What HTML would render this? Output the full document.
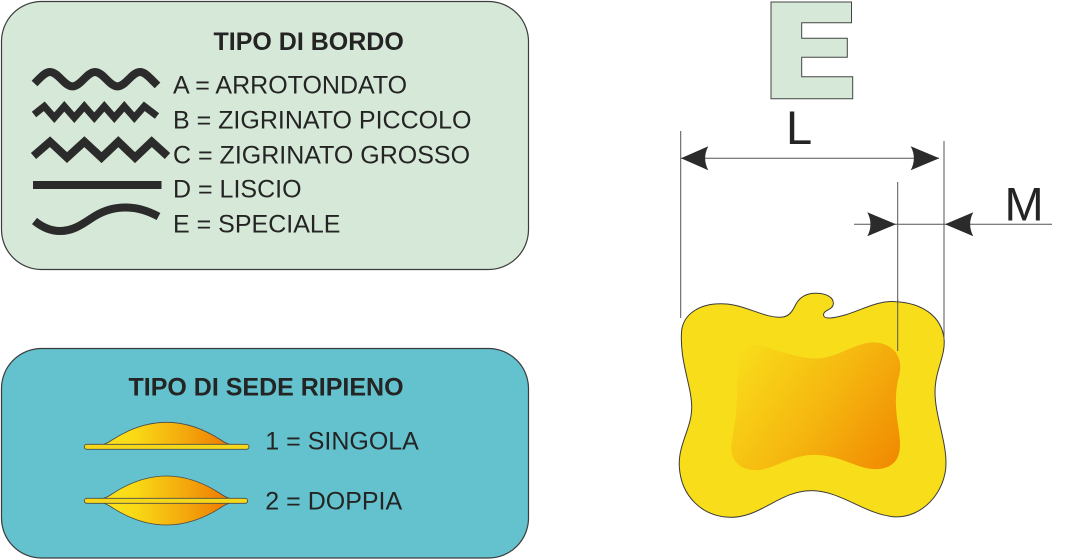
<!DOCTYPE html>
<html>
<head>
<meta charset="utf-8">
<style>
  html,body{margin:0;padding:0;background:#ffffff;}
  body{width:1087px;height:560px;overflow:hidden;}
  svg{display:block;}
  text{font-family:"Liberation Sans", Arial, sans-serif;fill:#242424;}
</style>
</head>
<body>
<svg width="1087" height="560" viewBox="0 0 1087 560" xmlns="http://www.w3.org/2000/svg">
  <defs>
    <linearGradient id="lens" gradientUnits="userSpaceOnUse" x1="105" y1="0" x2="229" y2="0">
      <stop offset="0" stop-color="#fbe41c"/>
      <stop offset="0.25" stop-color="#f9d816"/>
      <stop offset="0.65" stop-color="#f4a80c"/>
      <stop offset="1" stop-color="#ee7a00"/>
    </linearGradient>
    <linearGradient id="inner" gradientUnits="userSpaceOnUse" x1="740" y1="350" x2="905" y2="468">
      <stop offset="0" stop-color="#f9dc1a"/>
      <stop offset="0.5" stop-color="#f5b60f"/>
      <stop offset="1" stop-color="#f08500"/>
    </linearGradient>
  </defs>

  <!-- Box 1 -->
  <rect x="1.5" y="1.5" width="527" height="268" rx="40" ry="40" fill="#d6e8d7" stroke="#3c3c3c" stroke-width="1.2"/>
  <text x="213.5" y="50" font-size="25" font-weight="bold">TIPO DI BORDO</text>

  <!-- icons -->
  <g fill="none" stroke="#2b2b2b" stroke-linecap="butt">
    <path stroke-width="8" d="M34.5,83.5 L38.75,79.2 C42.51,75.42 45.94,72 50,72 C58.19,72 64.31,86.4 72.5,86.4 S86.81,72 95,72 S109.31,86.4 117.5,86.4 S131.81,72 140,72 C144.06,72 147.49,75.42 151.25,79.2 L157.5,85.45"/>
    <path stroke-width="7" stroke-linejoin="miter" d="M34,114.5 L44.3,106.3 L54.3,117.7 L64.3,106.3 L74.3,117.7 L84.3,106.3 L94.3,117.7 L104.3,106.3 L114.3,117.7 L124.3,106.3 L134.3,117.7 L144.3,106.3 L157,116"/>
    <path stroke-width="8" stroke-linejoin="miter" d="M33.5,156 L50,141.7 L67,157.6 L84.4,141.7 L101.5,157.6 L118.3,141.7 L135,157.6 L151.7,141.7 L167.5,156"/>
    <path stroke-width="8" d="M34.5,221 C42,227 50,231 60,231 C75,231 85,222 95,216 C105,210 115,207.5 125,207.5 C138,207.5 148,211 158.5,216.5"/>
  </g>
  <rect x="33" y="181" width="128.5" height="8" fill="#2b2b2b"/>

  <text x="173" y="93.3" font-size="25">A = ARROTONDATO</text>
  <text x="173" y="128.3" font-size="25">B = ZIGRINATO PICCOLO</text>
  <text x="173" y="163.3" font-size="25">C = ZIGRINATO GROSSO</text>
  <text x="173" y="197.7" font-size="25">D = LISCIO</text>
  <text x="173" y="232.7" font-size="25">E = SPECIALE</text>

  <!-- Box 2 -->
  <rect x="1.5" y="348.5" width="527" height="209.5" rx="40" ry="40" fill="#63c2cd" stroke="#3c3c3c" stroke-width="1.2"/>
  <text x="128.5" y="395.5" font-size="25" font-weight="bold">TIPO DI SEDE RIPIENO</text>

  <!-- single lens -->
  <path d="M103,444.5 Q108,443 112,440 Q166.5,404.6 221,440 Q225,443 230,444.5 Z" fill="url(#lens)" stroke="#4a4a4a" stroke-width="0.8"/>
  <rect x="84.3" y="444.3" width="164.7" height="5" rx="2.5" fill="#f6d81a" stroke="#4a4a4a" stroke-width="0.9"/>

  <!-- double lens -->
  <path d="M103,498.5 Q108,497 112,494 Q166.5,458 221,494 Q225,497 230,498.5 Z" fill="url(#lens)" stroke="#4a4a4a" stroke-width="0.8"/>
  <path d="M103,503 Q108,504.5 112,507.5 Q166.5,542.5 221,507.5 Q225,504.5 230,503 Z" fill="url(#lens)" stroke="#4a4a4a" stroke-width="0.8"/>
  <rect x="84.3" y="498.3" width="163.4" height="5" rx="2.5" fill="#f6d81a" stroke="#4a4a4a" stroke-width="0.9"/>

  <text x="265.3" y="449.5" font-size="25">1 = SINGOLA</text>
  <text x="265.3" y="509.5" font-size="25">2 = DOPPIA</text>

  <!-- E letter shape -->
  <path d="M771,2 L851.5,2 L851.5,22.7 L801.7,22.7 L801.7,38.3 L847.3,38.3 L847.3,57.3 L801.7,57.3 L801.7,76.7 L852.7,76.7 L852.7,98.7 L771,98.7 Z" fill="#d6e8d7" stroke="#444" stroke-width="1"/>

  <!-- L and M labels -->
  <text x="786" y="144" font-size="47">L</text>
  <text x="1004.5" y="220.7" font-size="47">M</text>

  <!-- extension lines -->
  <g stroke="#555" stroke-width="1" fill="none">
    <line x1="680.7" y1="131" x2="680.7" y2="318"/>
    <line x1="944" y1="141" x2="944" y2="340"/>
    <line x1="897.7" y1="182" x2="897.7" y2="351"/>
    <line x1="681" y1="158.3" x2="939" y2="158.3"/>
    <line x1="854" y1="224.3" x2="1052" y2="224.3"/>
  </g>

  <!-- arrowheads -->
  <g fill="#2b2b2b">
    <path d="M681,158.3 L708.3,146.3 Q702,158.3 708.3,170.3 Z"/>
    <path d="M939.3,158.3 L910.7,146.3 Q917,158.3 910.7,170.3 Z"/>
    <path d="M896,224.3 L867.3,212.3 Q873.6,224.3 867.3,236.3 Z"/>
    <path d="M945,224.3 L973.3,212.3 Q967,224.3 973.3,236.3 Z"/>
  </g>

  <!-- pasta shape outer -->
  <path d="M681.7,330
    C684,314 700,302 726.7,304
    C748,306 766,319 783,317
    C790,316 793,310 796,304
    C800,297 807,293 816.7,293.3
    C826,293.6 834,297 833.3,304
    C833,310 823,310 823.5,315
    C824,320 834,318 845,315
    C862,310 878,300 896,301.7
    C922,303 941,316 944,338
    C946,356 935,370 935,392
    C935,415 946,440 946,463
    C946,492 922,519 893.3,516.7
    C864,514 840,490 810,490.7
    C780,491 760,518 730,517.3
    C702,516.5 681,496 679.3,466.7
    C678,444 692,428 691.7,406.7
    C691.5,385 679,360 681.7,330 Z"
    fill="#f8dd1a" stroke="#3a3a3a" stroke-width="1"/>

  <!-- inner gradient -->
  <path d="M740,360
    C742,347 750,344 760,346
    C780,350 800,360 820,358.3
    C840,356.5 858,341 876,342.5
    C894,344 904,358 899,376
    C895,392 895,405 898,425
    C901,445 904,466 879,469
    C858,471 840,453 810,455
    C786,457 770,472 752,470
    C735,468 729,455 732,440
    C735,422 737.5,405 737,390
    C736.5,376 738,368 740,360 Z"
    fill="url(#inner)"/>

  <!-- extension lines overlaying the shape -->
  <g stroke="#555" stroke-width="1">
    <line x1="944" y1="300" x2="944" y2="340"/>
    <line x1="897.7" y1="300" x2="897.7" y2="351"/>
  </g>
</svg>
</body>
</html>
